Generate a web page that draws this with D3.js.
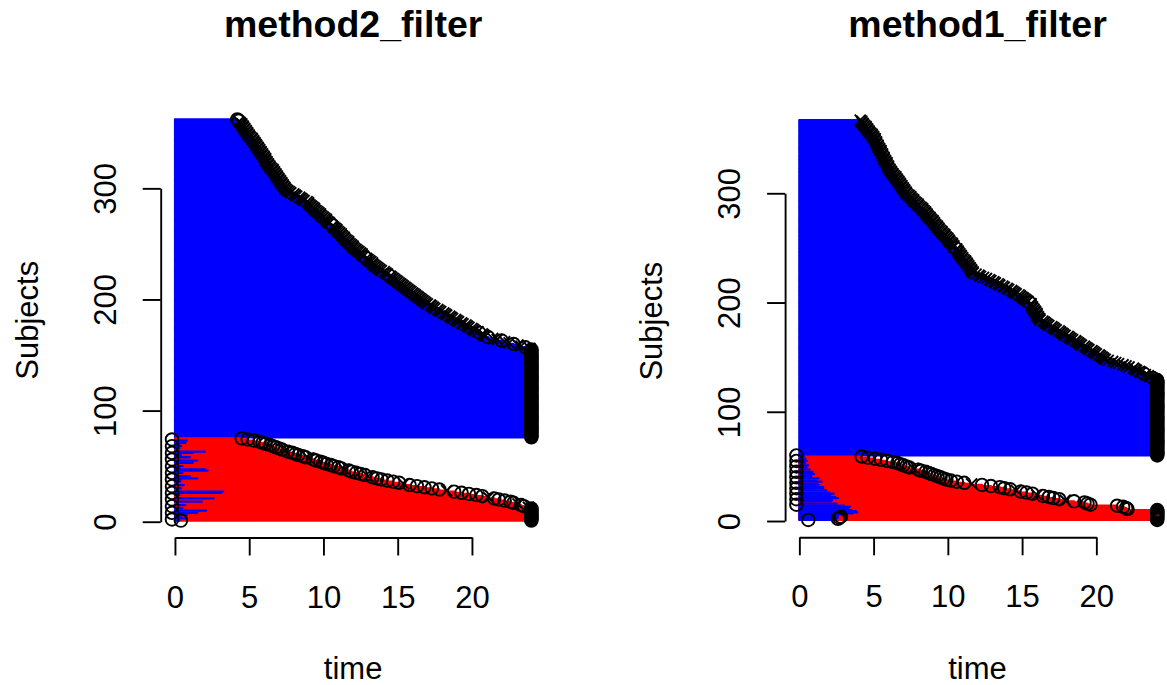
<!DOCTYPE html>
<html>
<head>
<meta charset="utf-8">
<script src="https://cdn.jsdelivr.net/npm/d3@7"></script>
<style>
  body { margin: 0; background: #fff; }
  text { font-family: "Liberation Sans", Arial, Helvetica, sans-serif; }
</style>
</head>
<body>
<script>
// ---- data (subject rows listed from subject 1 upward) ----
var xTicks = [0, 5, 10, 15, 20];
var yTicks = [0, 100, 200, 300];

// method2_filter: end time per subject, red group (1..75)
var m2RedEnd = [
  24, 24, 24, 24, 24, 24, 24, 24, 24, 24, 24, 24,
  23.8, 23.5, 23.3, 23.1, 22.8, 22.6, 22.2, 21.8, 21.5, 21.1, 20.7, 20.3,
  19.8, 19.3, 18.8, 18.3, 17.8, 17.3, 16.8, 16.3, 15.8, 15.4, 15.1, 14.7, 14.3, 13.9, 13.6,
  13.3, 13.0, 12.8, 12.5, 12.2, 11.9, 11.7, 11.4, 11.2, 11.0, 10.7, 10.5, 10.2, 10.0, 9.8,
  9.5, 9.3, 9.0, 8.8, 8.6, 8.3, 8.1, 7.9, 7.6, 7.4, 7.2, 7.0, 6.8, 6.6, 6.4, 6.1, 5.9, 5.7,
  5.3, 4.9, 4.5
];
// method2_filter: end time per subject, blue group (76..362)
var m2BlueEnd = [
  24, 24, 24, 24, 24, 24, 24, 24, 24, 24,
  24, 24, 24, 24, 24, 24, 24, 24, 24, 24,
  24, 24, 24, 24, 24, 24, 24, 24, 24, 24,
  24, 24, 24, 24, 24, 24, 24, 24, 24, 24,
  24, 24, 24, 24, 24, 24, 24, 24, 24, 24,
  24, 24, 24, 24, 24, 24, 24, 24, 24, 24,
  24, 24, 24, 24, 24, 24, 24, 24, 24, 24,
  24, 24, 24, 24, 24, 24, 24, 24, 24, 24,
  23.9, 23.6, 23.3, 23.1, 22.8, 22.5, 22.2, 22.0, 21.7, 21.4, 21.1,
  20.9, 20.8, 20.7, 20.5, 20.4, 20.2, 20.1, 20.0, 19.8, 19.7, 19.6, 19.4, 19.3, 19.1, 19.0, 18.9, 18.7,
  18.6, 18.5, 18.3, 18.2, 18.1, 17.9, 17.8, 17.7, 17.5, 17.4, 17.3, 17.2, 17.0,
  16.9, 16.8, 16.7, 16.6, 16.5, 16.4, 16.3, 16.2, 16.1, 16.0, 15.9, 15.8, 15.7, 15.6, 15.5, 15.4, 15.3, 15.2,
  15.1, 15.0, 14.9, 14.8, 14.7, 14.6, 14.5, 14.4, 14.3, 14.2, 14.1, 13.9, 13.8, 13.7, 13.6,
  13.5, 13.4, 13.3, 13.3, 13.2, 13.1, 13.0, 12.9, 12.8, 12.7, 12.6, 12.6, 12.5, 12.4, 12.3, 12.2, 12.1, 12.0,
  12.0, 11.9, 11.8, 11.7, 11.7, 11.6, 11.5, 11.4, 11.4, 11.3, 11.2, 11.2, 11.1, 11.0, 10.9, 10.9, 10.8, 10.7, 10.6, 10.6, 10.5,
  10.4, 10.3, 10.2, 10.2, 10.1, 10.0, 9.9, 9.8, 9.8, 9.7, 9.6, 9.5, 9.4, 9.4, 9.3, 9.2, 9.1, 9.0, 9.0, 8.9,
  8.7, 8.6, 8.5, 8.4, 8.2, 8.1, 8.0, 7.8, 7.7, 7.6,
  7.5, 7.4, 7.4, 7.3, 7.3, 7.2, 7.2, 7.1, 7.1, 7.0, 7.0, 6.9, 6.9, 6.8, 6.8, 6.7, 6.7, 6.6, 6.6, 6.5, 6.4,
  6.4, 6.3, 6.3, 6.2, 6.2, 6.1, 6.1, 6.1, 6.0, 6.0, 5.9, 5.9, 5.8, 5.8, 5.7, 5.7, 5.6, 5.6, 5.5, 5.5, 5.4, 5.4, 5.3, 5.3,
  5.2, 5.2, 5.1, 5.0, 5.0, 4.9, 4.9, 4.8, 4.8, 4.7, 4.7, 4.6, 4.6, 4.5, 4.5, 4.4, 4.3, 4.3, 4.2
];
// method2_filter: early blue part of some red-group rows
var m2SwitchId   = [73, 71, 70, 68, 66, 63, 62, 60, 58, 55, 53, 50, 48, 47, 46, 44, 41, 39, 38, 36, 33, 30, 27, 26, 24, 21, 18, 15, 12, 10, 8, 6, 5, 3, 1];
var m2SwitchTime = [0.8, 0.7, 0.3, 0.4, 0.3, 2.0, 1.2, 0.4, 1.0, 1.5, 1.2, 0.5, 0.3, 2.0, 2.2, 0.5, 1.0, 1.5, 0.4, 0.35, 0.6, 0.4, 3.25, 3.1, 0.3, 2.6, 1.8, 0.7, 0.5, 2.1, 1.5, 0.8, 0.4, 0.8, 0.3];
// method2_filter: start markers, and marker types
var m2StartId   = [74, 68, 62, 56, 50, 44, 38, 32, 26, 20, 14, 8, 2, 1];
var m2StartTime = [-0.2, -0.2, -0.2, -0.2, -0.2, -0.2, -0.2, -0.2, -0.2, -0.2, -0.2, -0.2, -0.2, 0.4];
var m2RedCross  = [64, 57, 47, 41, 34, 28, 22, 16, 13];
var m2BlueCircle = [362, 361, 268, 267, 238, 222, 170, 166, 163, 160, 157];

// method1_filter: end time per subject, red group (1..59)
var m1RedEnd = [
  24.1, 24.1, 24.1, 24.1, 24.1, 24.1, 24.1, 24.1, 24.1, 24.1,
  22.1, 22.0, 21.8, 21.4, 19.6, 19.4, 19.2, 18.5, 17.9, 17.5, 17.1, 16.8, 16.4, 16.0, 15.7,
  15.3, 14.9, 14.6, 14.2, 13.8, 13.5, 12.9, 12.3, 11.6, 11.1, 10.6, 10.2, 9.9, 9.7, 9.5,
  9.3, 9.1, 8.9, 8.7, 8.5, 8.2, 8.0, 7.7, 7.4, 7.2, 7.0, 6.8, 6.6, 6.3, 5.9, 5.5, 5.1, 4.6, 4.2
];
// method1_filter: end time per subject, blue group (60..367)
var m1BlueEnd = [
  24.1, 24.1, 24.1, 24.1, 24.1, 24.1, 24.1, 24.1, 24.1, 24.1,
  24.1, 24.1, 24.1, 24.1, 24.1, 24.1, 24.1, 24.1, 24.1, 24.1,
  24.1, 24.1, 24.1, 24.1, 24.1, 24.1, 24.1, 24.1, 24.1, 24.1,
  24.1, 24.1, 24.1, 24.1, 24.1, 24.1, 24.1, 24.1, 24.1, 24.1,
  24.1, 24.1, 24.1, 24.1, 24.1, 24.1, 24.1, 24.1, 24.1, 24.1,
  24.1, 24.1, 24.1, 24.1, 24.1, 24.1, 24.1, 24.1, 24.1, 24.1,
  24.1, 24.1, 24.1, 24.1, 24.1, 24.1, 24.1, 24.1, 24.1,
  24.1, 23.9, 23.8, 23.6, 23.5, 23.3, 23.2, 23.0, 22.9, 22.7, 22.6,
  22.5, 22.2, 22.0, 21.8, 21.5, 21.3, 21.1, 20.8,
  20.6, 20.5, 20.4, 20.3, 20.2, 20.0, 19.9, 19.8, 19.7,
  19.5, 19.4, 19.3, 19.2, 19.0, 18.9, 18.8, 18.7, 18.6,
  18.4, 18.3, 18.2, 18.1, 17.9, 17.8, 17.7, 17.6, 17.5,
  17.3, 17.2, 17.1, 17.0, 16.8, 16.7, 16.6, 16.5, 16.4, 16.2,
  16.2, 16.1, 16.1, 16.0, 16.0, 16.0, 15.9, 15.9, 15.8, 15.8, 15.7, 15.7, 15.6, 15.6, 15.6,
  15.5, 15.4, 15.3, 15.2, 15.1, 15.0, 14.9, 14.8, 14.6, 14.5,
  14.4, 14.3, 14.1, 14.0, 13.8, 13.7, 13.5, 13.4, 13.2, 13.1, 12.9,
  12.8, 12.6, 12.4, 12.2, 12.1, 11.9,
  11.7, 11.7, 11.6, 11.6, 11.5, 11.5, 11.4, 11.4, 11.3, 11.3, 11.2, 11.2, 11.1, 11.0, 11.0, 10.9, 10.9, 10.8, 10.8, 10.7, 10.7, 10.6,
  10.6, 10.5, 10.4, 10.4, 10.3, 10.3, 10.2, 10.1, 10.1, 10.0, 10.0, 9.9, 9.8, 9.8, 9.7, 9.6, 9.6, 9.5,
  9.4, 9.4, 9.3, 9.3, 9.2, 9.1, 9.1, 9.0, 9.0, 8.9, 8.8, 8.8, 8.7, 8.6, 8.6, 8.5, 8.5, 8.4,
  8.3, 8.3, 8.2, 8.1, 8.0, 8.0, 7.9, 7.8, 7.7, 7.7, 7.6, 7.5, 7.5, 7.4, 7.3, 7.2,
  7.2, 7.1, 7.1, 7.0, 7.0, 6.9, 6.9, 6.8, 6.8, 6.7, 6.7, 6.6, 6.6, 6.5, 6.5, 6.4, 6.3, 6.3, 6.2, 6.2, 6.1,
  6.1, 6.0, 6.0, 6.0, 5.9, 5.9, 5.9, 5.8, 5.8, 5.7, 5.7, 5.7, 5.6, 5.6, 5.6, 5.5, 5.5, 5.5, 5.4, 5.4,
  5.3, 5.3, 5.3, 5.2, 5.2, 5.2, 5.1, 5.1, 5.1, 5.0,
  5.0, 4.9, 4.9, 4.8, 4.7, 4.7, 4.6, 4.6, 4.5, 4.5, 4.4, 4.3, 4.3, 4.2, 4.2, 4.1
];
var m1SwitchId   = [59, 57, 55, 53, 51, 49, 47, 45, 43, 41, 39, 37, 36, 34, 33, 31, 30, 28, 26, 25, 24, 22, 21, 19, 18, 16, 14, 13, 12, 11, 10, 9, 8, 7, 6, 5, 4, 3, 2, 1];
var m1SwitchTime = [0.3, 0.4, 0.5, 0.4, 0.6, 0.5, 0.7, 0.9, 1.0, 0.8, 1.3, 1.1, 1.5, 1.2, 1.3, 1.6, 1.6, 1.8, 2.0, 2.3, 2.1, 2.4, 2.6, 2.2, 2.1, 2.5, 3.0, 3.4, 3.3, 3.2, 3.5, 3.8, 3.9, 3.6, 2.8, 2.6, 2.5, 2.6, 2.5, 2.4];
var m1StartId   = [60, 55, 50, 45, 40, 35, 30, 25, 20, 15, 1, 2, 3, 4];
var m1StartTime = [-0.2, -0.2, -0.2, -0.2, -0.2, -0.2, -0.2, -0.2, -0.2, -0.2, 0.6, 2.6, 2.7, 2.8];
var m1RedCross  = [48, 34, 28, 24, 19];
var m1BlueCircle = [200, 250, 135, 131];

// ---- layout ----
var svgWidth = 1167;
var svgHeight = 685;
var xLim = [-0.96, 24.96];
var lwd = 2.3;

var panels = [
  { title: "method2_filter", red: m2RedEnd, blue: m2BlueEnd,
    swId: m2SwitchId, swTime: m2SwitchTime, stId: m2StartId, stTime: m2StartTime,
    redCross: m2RedCross, blueCircle: m2BlueCircle, endTime: 24,
    left: 160.7, right: 545.6, top: 103, bottom: 537.5, yLim: [-14.2, 376.8] },
  { title: "method1_filter", red: m1RedEnd, blue: m1BlueEnd,
    swId: m1SwitchId, swTime: m1SwitchTime, stId: m1StartId, stTime: m1StartTime,
    redCross: m1RedCross, blueCircle: m1BlueCircle, endTime: 24.1,
    left: 785.1, right: 1170, top: 105, bottom: 537.3, yLim: [-14.9, 380.8] }
];

var svg = d3.select("body")
  .append("svg")
  .attr("width", svgWidth)
  .attr("height", svgHeight);

function drawMarkers(sel, rows, x, y) {
  sel.selectAll("circle")
    .data(rows.filter(d => d.pch === 1))
    .join("circle")
    .attr("cx", d => x(d.t))
    .attr("cy", d => y(d.id))
    .attr("r", 6.3)
    .attr("fill", "none")
    .attr("stroke", "#000")
    .attr("stroke-width", 1.9);
  sel.selectAll("path")
    .data(rows.filter(d => d.pch === 4))
    .join("path")
    .attr("d", function(d) {
      var cx = x(d.t), cy = y(d.id), s = 5.5;
      return `M${cx - s},${cy - s}L${cx + s},${cy + s}M${cx - s},${cy + s}L${cx + s},${cy - s}`;
    })
    .attr("stroke", "#000")
    .attr("stroke-width", 1.9);
}

panels.forEach(function(p, k) {
  var x = d3.scaleLinear().domain(xLim).range([p.left, p.right]);
  var y = d3.scaleLinear().domain(p.yLim).range([p.bottom, p.top]);

  var g = svg.append("g");

  svg.append("clipPath").attr("id", "clip" + k)
    .append("rect")
    .attr("x", p.left).attr("y", p.top)
    .attr("width", p.right - p.left).attr("height", p.bottom - p.top);

  var plot = g.append("g").attr("clip-path", `url(#clip${k})`);

  var nRed = p.red.length;
  var redRows = p.red.map((t, i) => ({ id: i + 1, t: t }));
  var blueRows = p.blue.map((t, i) => ({ id: nRed + i + 1, t: t }));
  var swRows = p.swId.map((id, i) => ({ id: id, t: p.swTime[i] }));

  function bars(rows, colour) {
    plot.append("g").selectAll("line")
      .data(rows)
      .join("line")
      .attr("x1", x(0))
      .attr("x2", d => x(d.t))
      .attr("y1", d => y(d.id))
      .attr("y2", d => y(d.id))
      .attr("stroke", colour)
      .attr("stroke-width", lwd)
      .attr("stroke-linecap", "round");
  }
  bars(blueRows, "#0000ff");
  bars(redRows, "#ff0000");
  bars(swRows, "#0000ff");

  // end markers: circle = event / end of follow-up, cross = censored
  var marks = [];
  redRows.forEach(d => marks.push({ id: d.id, t: d.t, pch: p.redCross.indexOf(d.id) >= 0 ? 4 : 1 }));
  blueRows.forEach(d => marks.push({ id: d.id, t: d.t,
    pch: (d.t >= p.endTime || p.blueCircle.indexOf(d.id) >= 0) ? 1 : 4 }));
  p.stId.forEach((id, i) => marks.push({ id: id, t: p.stTime[i], pch: 1 }));
  drawMarkers(plot.append("g"), marks, x, y);

  // axes in R style: axis line only spans the ticks
  var xAxisScale = x.copy().domain([0, 20]).range([x(0), x(20)]);
  var xAxis = g.append("g")
    .attr("transform", `translate(0, ${p.bottom})`)
    .call(d3.axisBottom(xAxisScale).tickValues(xTicks).tickSize(18).tickSizeOuter(0).tickPadding(30));

  var yAxisScale = y.copy().domain([0, 300]).range([y(0), y(300)]);
  var yAxis = g.append("g")
    .attr("transform", `translate(${p.left}, 0)`)
    .call(d3.axisLeft(yAxisScale).tickValues(yTicks).tickSize(18).tickSizeOuter(0));

  [xAxis, yAxis].forEach(function(a) {
    a.attr("font-family", null).attr("font-size", null);
    a.selectAll("path, line").attr("stroke", "#000").attr("stroke-width", 1.9);
    a.selectAll("text").attr("fill", "#000").style("font-size", "31px");
  });
  yAxis.selectAll("text")
    .attr("transform", "rotate(-90)")
    .attr("x", 0)
    .attr("y", -45)
    .attr("dy", 0)
    .attr("text-anchor", "middle");

  var cx = (p.left + p.right) / 2;
  var cy = (p.top + p.bottom) / 2;

  g.append("text")
    .attr("x", cx).attr("y", 37)
    .attr("text-anchor", "middle")
    .style("font-size", "37.5px")
    .style("font-weight", "bold")
    .text(p.title);

  g.append("text")
    .attr("x", cx).attr("y", 679)
    .attr("text-anchor", "middle")
    .style("font-size", "31px")
    .text("time");

  g.append("text")
    .attr("transform", `translate(${p.left - 123}, ${cy}) rotate(-90)`)
    .attr("text-anchor", "middle")
    .style("font-size", "31px")
    .text("Subjects");
});
</script>
</body>
</html>
